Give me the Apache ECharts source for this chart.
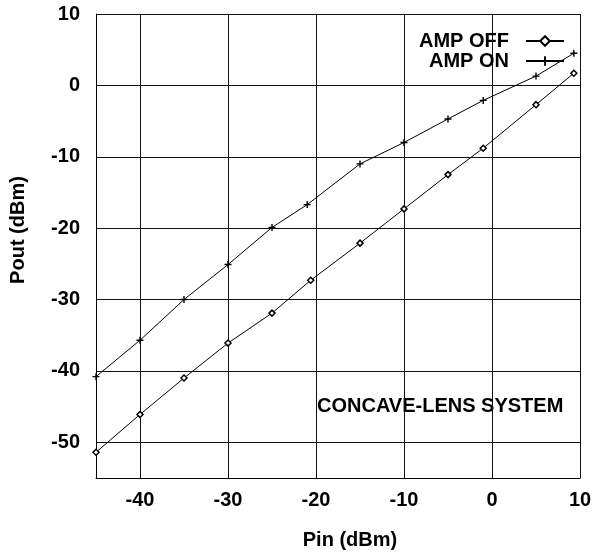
<!DOCTYPE html>
<html lang="en">
<head>
  <meta charset="UTF-8" />
  <script src="https://cdn.jsdelivr.net/npm/echarts@6/dist/echarts.min.js"></script>
  <title>Pout vs Pin</title>
  <style>
    html, body { margin: 0; padding: 0; background: #fff; }
  </style>
</head>
<body>
  <div id="main" style="width: 593px; height: 552px;"></div>
  <script type="text/javascript">
    // input power (dBm) for each measured point
    var pinOff = [-45, -40, -35, -30, -25, -20.6, -15, -10, -5, -1, 5, 9.3];
    var pinOn = [-45, -40, -35, -30, -25, -21, -15, -10, -5, -1, 5, 9.3];
    // output power (dBm)
    var poutOff = [-51.4, -46.1, -41, -36.1, -31.9, -27.3, -22.1, -17.3, -12.5, -8.8, -2.7, 1.7];
    var poutOn = [-40.8, -35.7, -30, -25.1, -19.9, -16.7, -11, -8, -4.7, -2.1, 1.3, 4.5];
    var seriesNames = ["AMP OFF", "AMP ON"];

    var font = "'Liberation Sans', Arial, Helvetica, sans-serif";
    var plusIcon = "path://M4,0H6V4H10V6H6V10H4V6H0V4H4Z";

    function pairs(xs, ys) {
      return xs.map(function (x, i) { return [x, ys[i]]; });
    }

    var myChart = echarts.init(document.getElementById("main"));

    myChart.setOption({
      backgroundColor: "#fff",
      animation: false,
      // fixed plot box, no auto shrinking for labels
      grid: { left: 96, right: 13, top: 14, bottom: 74, outerBoundsMode: "none", containLabel: false },
      legend: {
        orient: "vertical",
        align: "right",
        right: 23,
        top: 26,
        itemWidth: 38,
        itemHeight: 12,
        itemGap: 0,
        textStyle: { fontFamily: font, fontWeight: "bold", fontSize: 20, color: "#000", padding: [0, 12, 0, 0] },
        data: seriesNames
      },
      xAxis: {
        type: "value",
        min: -45,
        max: 10,
        splitNumber: 5,
        name: "Pin (dBm)",
        nameLocation: "middle",
        nameGap: 52,
        nameTextStyle: { fontFamily: font, fontWeight: "bold", fontSize: 20, color: "#000", padding: [0, 0, 0, 24] },
        axisLine: { show: true, onZero: false, lineStyle: { color: "#000", width: 1 } },
        axisTick: { show: false },
        axisLabel: { showMinLabel: false, margin: 12, fontFamily: font, fontWeight: "bold", fontSize: 20, color: "#000" },
        splitLine: { show: true, lineStyle: { color: "#111", width: 1 } }
      },
      yAxis: {
        type: "value",
        min: -55,
        max: 10,
        splitNumber: 5,
        name: "Pout (dBm)",
        nameLocation: "middle",
        nameGap: 68,
        nameTextStyle: { fontFamily: font, fontWeight: "bold", fontSize: 20, color: "#000", padding: [0, 0, 0, 32] },
        axisLine: { show: true, onZero: false, lineStyle: { color: "#000", width: 1 } },
        axisTick: { show: false },
        axisLabel: { showMinLabel: false, margin: 16, fontFamily: font, fontWeight: "bold", fontSize: 20, color: "#000" },
        splitLine: { show: true, lineStyle: { color: "#111", width: 1 } }
      },
      graphic: [
        {
          type: "text",
          left: 317,
          top: 396,
          style: {
            text: "CONCAVE-LENS SYSTEM",
            font: "bold 20px " + font,
            fill: "#000"
          }
        }
      ],
      series: [
        {
          name: seriesNames[0],
          type: "line",
          data: pairs(pinOff, poutOff),
          symbol: "diamond",
          symbolSize: 6,
          showAllSymbol: true,
          lineStyle: { color: "#000", width: 1 },
          itemStyle: { color: "#fff", borderColor: "#000", borderWidth: 1.5 }
        },
        {
          name: seriesNames[1],
          type: "line",
          data: pairs(pinOn, poutOn),
          symbol: plusIcon,
          symbolSize: 7,
          showAllSymbol: true,
          lineStyle: { color: "#000", width: 1 },
          itemStyle: { color: "#000" }
        }
      ]
    });
  </script>
</body>
</html>
